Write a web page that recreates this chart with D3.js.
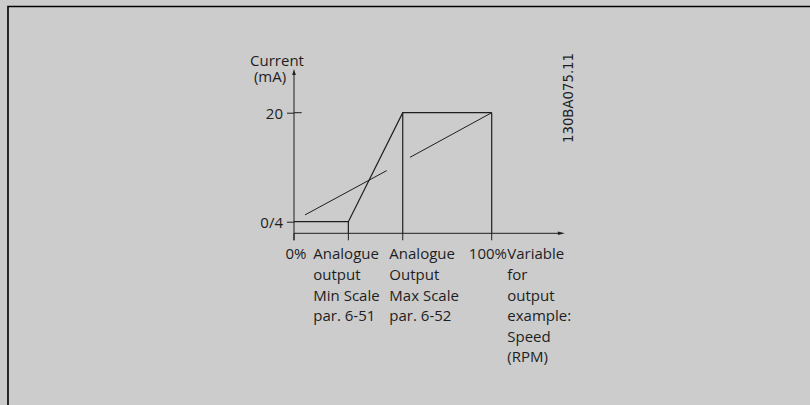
<!DOCTYPE html>
<html>
<head>
<meta charset="utf-8">
<script src="https://cdn.jsdelivr.net/npm/d3@7"></script>
<style>
  html, body { margin: 0; padding: 0; background: #cccccc; }
  svg { display: block; }
  text { font-family: "Open Sans", sans-serif; fill: #1e1e1e; }
</style>
</head>
<body>
<svg id="chart" width="810" height="405"></svg>
<script>
// Analogue output scaling: current (mA) vs. output variable (% of range)
const yTickValues = [4, 20];
const yTickLabels = ["0/4", "20"];

// Breakpoints of the output current characteristic
const outputPercent = [0, 27.5, 55, 100];
const outputCurrent = [4, 4, 20, 20];

// Proportional guide strokes (before / after rescaling)
const guideLowPercent = [5.6, 46.9];
const guideLowCurrent = [5.0, 11.5];
const guideHighPercent = [58.7, 100];
const guideHighCurrent = [13.45, 20];

// Positions marked on the x axis and their captions
const xMarkPercent = [0, 27.5, 55, 100];
const xMarkLabels = [
  ["0%"],
  ["Analogue", "output", "Min Scale", "par. 6-51"],
  ["Analogue", "Output", "Max Scale", "par. 6-52"],
  ["100%"]
];
const xAxisTitle = ["Variable", "for", "output", "example:", "Speed", "(RPM)"];
const yAxisTitle = ["Current", "(mA)"];
const drawingId = "130BA075.11";

const ink = "#1e1e1e";
const svg = d3.select("#chart");

// frame
svg.append("path")
  .attr("d", "M8,405 V6.5 H810")
  .attr("fill", "none").attr("stroke", "#000").attr("stroke-width", 1.6);

const x = d3.scaleLinear().domain([0, 100]).range([294, 491.7]);
const y = d3.scaleLinear().domain([4, 20]).range([221.7, 112.7]);

const axisY = 233.3;        // baseline of the x axis
const xAxisEnd = x(136);    // where the x arrow ends
const yAxisTop = y(26.4);   // where the y arrow ends

const g = svg.append("g");

// y axis line (runs a little below the x axis)
g.append("line")
  .attr("x1", x(0)).attr("x2", x(0))
  .attr("y1", axisY + 7).attr("y2", yAxisTop + 4)
  .attr("stroke", ink).attr("stroke-width", 1);
g.append("path")
  .attr("d", `M${x(0)},${yAxisTop} l-1.8,6 h3.6 Z`)
  .attr("fill", ink);

// x axis line with arrow
g.append("line")
  .attr("x1", x(0)).attr("x2", xAxisEnd - 4)
  .attr("y1", axisY).attr("y2", axisY)
  .attr("stroke", ink).attr("stroke-width", 1);
g.append("path")
  .attr("d", `M${xAxisEnd + 2},${axisY} l-7,-1.8 v3.6 Z`)
  .attr("fill", ink);

// y ticks and labels through a d3 axis
const yAxis = d3.axisLeft(y)
  .tickValues(yTickValues)
  .tickFormat((d, i) => yTickLabels[i])
  .tickSize(7)
  .tickPadding(4);
const yAxisG = g.append("g").attr("transform", `translate(${x(0)},0)`).call(yAxis);
yAxisG.select(".domain").remove();
yAxisG.selectAll(".tick line").attr("stroke", ink);
yAxisG.selectAll(".tick text")
  .attr("font-size", 15).attr("font-family", "Open Sans, sans-serif")
  .attr("fill", ink).attr("dy", "0.36em");
// the 20 mA tick crosses the axis
g.append("line")
  .attr("x1", x(0)).attr("x2", x(0) + 7.7)
  .attr("y1", y(20)).attr("y2", y(20))
  .attr("stroke", ink);

// tick marks below the x axis
g.selectAll(".xtick").data(xMarkPercent).join("line")
  .attr("class", "xtick")
  .attr("x1", d => x(d)).attr("x2", d => x(d))
  .attr("y1", axisY).attr("y2", axisY + 7)
  .attr("stroke", ink);

// output characteristic
const pts = outputPercent.map((p, i) => [x(p), y(outputCurrent[i])]);
g.append("path")
  .attr("d", d3.line()(pts))
  .attr("fill", "none").attr("stroke", ink).attr("stroke-width", 1.2);

// drop lines from the breakpoints to the axis
g.selectAll(".drop").data(outputPercent.slice(1).map((p, i) => [p, outputCurrent[i + 1]])).join("line")
  .attr("class", "drop")
  .attr("x1", d => x(d[0])).attr("x2", d => x(d[0]))
  .attr("y1", d => y(d[1])).attr("y2", axisY)
  .attr("stroke", ink).attr("stroke-width", 1.2);

// guide strokes
[[guideLowPercent, guideLowCurrent], [guideHighPercent, guideHighCurrent]].forEach(([px, cy]) => {
  g.append("path")
    .attr("d", d3.line()(px.map((p, i) => [x(p), y(cy[i])])))
    .attr("fill", "none").attr("stroke", ink).attr("stroke-width", 1);
});

// captions under the x axis
const lineH = 20.6;
const firstBase = 259.3;
function block(lines, xPos, anchor) {
  const t = g.append("text")
    .attr("x", xPos).attr("y", firstBase)
    .attr("font-size", 15).attr("text-anchor", anchor);
  lines.forEach((s, i) => {
    t.append("tspan").attr("x", xPos).attr("y", firstBase + i * lineH).text(s);
  });
  return t;
}
block(xMarkLabels[0], x(xMarkPercent[0]) + 2, "middle");
block(xMarkLabels[1], x(xMarkPercent[0]) + 19.3, "start");
block(xMarkLabels[2], x(xMarkPercent[2]) - 13.4, "start");
block(xMarkLabels[3], x(xMarkPercent[3]) + 15.3, "end");
block(xAxisTitle, x(xMarkPercent[3]) + 15.6, "start");

// y axis title
const yt = g.append("text").attr("font-size", 15).attr("text-anchor", "middle");
yt.append("tspan").attr("x", 277).attr("y", 65.5).text(yAxisTitle[0]);
yt.append("tspan").attr("x", 270).attr("y", 82).text(yAxisTitle[1]);

// drawing id, rotated
svg.append("text")
  .attr("transform", "translate(573,143) rotate(-90)")
  .attr("font-family", "DejaVu Sans, sans-serif")
  .attr("font-size", 14)
  .attr("textLength", 90)
  .attr("lengthAdjust", "spacingAndGlyphs")
  .attr("fill", ink)
  .style("font-family", "DejaVu Sans, sans-serif")
  .text(drawingId);
</script>
</body>
</html>
